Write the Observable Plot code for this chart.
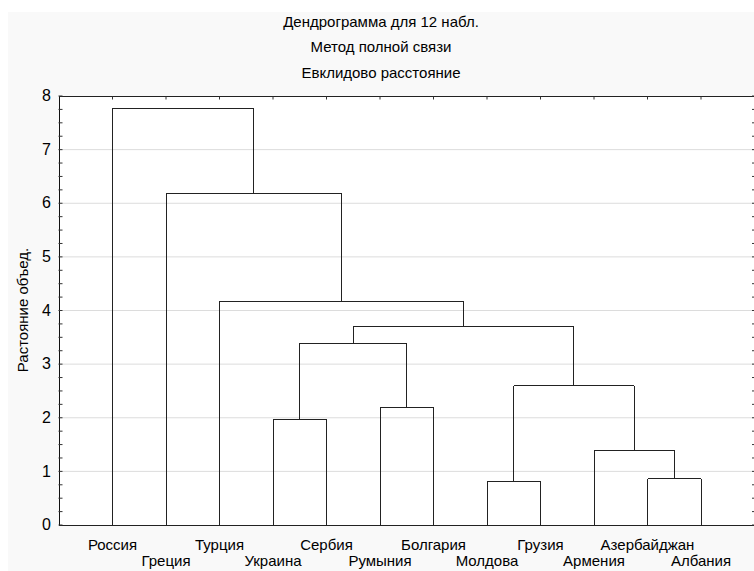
<!DOCTYPE html>
<html>
<head>
<meta charset="utf-8">
<script src="https://cdn.jsdelivr.net/npm/d3@7"></script>
<script src="https://cdn.jsdelivr.net/npm/@observablehq/plot@0.6"></script>
<style>
  body { margin: 0; background: #ffffff; }
  #wrap { position: relative; width: 754px; height: 571px; overflow: hidden; font-family: "Liberation Sans", Arial, sans-serif; }
  #bg { position: absolute; left: 8px; top: 12px; width: 746px; height: 559px; background: #f9f9f9; }
  .title { position: absolute; left: 8px; width: 746px; text-align: center; font-size: 15px; color: #000; line-height: 16px; }
  #ylab { position: absolute; left: 22px; top: 310px; transform: translate(-50%, -50%) rotate(-90deg); white-space: nowrap; font-size: 15px; color: #000; }
  #chart { position: absolute; left: 0; top: 0; }
</style>
</head>
<body>
<div id="wrap">
  <div id="bg"></div>
  <div class="title" id="t1"></div>
  <div class="title" id="t2"></div>
  <div class="title" id="t3"></div>
  <div id="ylab"></div>
  <div id="chart"></div>
</div>
<script>
// ---- data ----
const titleLines = ["Дендрограмма для 12 набл.", "Метод полной связи", "Евклидово расстояние"];
const yLabel = "Растояние объед.";
const leaves = ["Россия", "Греция", "Турция", "Украина", "Сербия", "Румыния",
                "Болгария", "Молдова", "Грузия", "Армения", "Азербайджан", "Албания"];
// merges: node ids 0..11 are leaves, each merge creates node 12, 13, ...
const mergeLeft   = [7,  10, 9,    3,    5,    12,   15,   18,   2,    1,    0];
const mergeRight  = [8,  11, 13,   4,    6,    14,   16,   17,   19,   20,   21];
const mergeHeight = [0.82, 0.86, 1.39, 1.97, 2.19, 2.60, 3.39, 3.70, 4.17, 6.19, 7.77];
const yTicks = [0, 1, 2, 3, 4, 5, 6, 7, 8];
const yMinorTicks = d3.range(0, 8.001, 0.25);

// ---- titles ----
const tops = [14, 39, 65];
titleLines.forEach((t, i) => {
  const el = document.getElementById("t" + (i + 1));
  el.textContent = t;
  el.style.top = tops[i] + "px";
});
document.getElementById("ylab").textContent = yLabel;

// ---- build dendrogram segments ----
const nodeX = leaves.map((_, i) => i + 1);
const nodeY = leaves.map(() => 0);
const segs = [];
mergeLeft.forEach((a, k) => {
  const b = mergeRight[k], h = mergeHeight[k];
  segs.push({x1: nodeX[a], y1: nodeY[a], x2: nodeX[a], y2: h});
  segs.push({x1: nodeX[b], y1: nodeY[b], x2: nodeX[b], y2: h});
  segs.push({x1: nodeX[a], y1: h, x2: nodeX[b], y2: h});
  nodeX.push((nodeX[a] + nodeX[b]) / 2);
  nodeY.push(h);
});
const labelData = leaves.map((name, i) => ({name, x: i + 1, row: i % 2}));

const chart = Plot.plot({
  width: 754,
  height: 571,
  marginLeft: 58.5,
  marginRight: 0,
  marginTop: 95.5,
  marginBottom: 46.5,
  style: {background: "transparent", fontFamily: "'Liberation Sans', Arial, sans-serif", fontSize: "15px", color: "#000"},
  x: {domain: [0, leaves.length + 1], axis: null},
  y: {domain: [0, 8], axis: null},
  marks: [
    Plot.frame({fill: "white", stroke: null}),
    Plot.gridY(yTicks.slice(1, -1), {stroke: "#dcdcdc", strokeOpacity: 1}),
    Plot.link(segs, {x1: "x1", y1: "y1", x2: "x2", y2: "y2", stroke: "#222", strokeWidth: 1, shapeRendering: "crispEdges"}),
    Plot.ruleX([0], {stroke: "#111", shapeRendering: "crispEdges"}),
    Plot.ruleY([0, 8], {stroke: "#222", shapeRendering: "crispEdges"}),
    Plot.axisY(yTicks, {anchor: "left", tickSize: 0, tickPadding: 8, fontSize: 16, tickFormat: d3.format("d"), label: null}),
    Plot.axisY(yMinorTicks, {anchor: "left", tickSize: -4, text: null, label: null, stroke: "#333"}),
    Plot.axisY(yMinorTicks, {anchor: "right", tickSize: -3, text: null, label: null, stroke: "#333"}),
    Plot.axisX(nodeX.slice(0, leaves.length), {anchor: "top", tickSize: -3, text: null, label: null, stroke: "#333"}),
    Plot.text(labelData.filter(d => d.row === 0), {x: "x", y: 0, text: "name", dy: 20, fontSize: 15, lineAnchor: "middle"}),
    Plot.text(labelData.filter(d => d.row === 1), {x: "x", y: 0, text: "name", dy: 36, fontSize: 15, lineAnchor: "middle"})
  ]
});
document.getElementById("chart").appendChild(chart);
</script>
</body>
</html>
